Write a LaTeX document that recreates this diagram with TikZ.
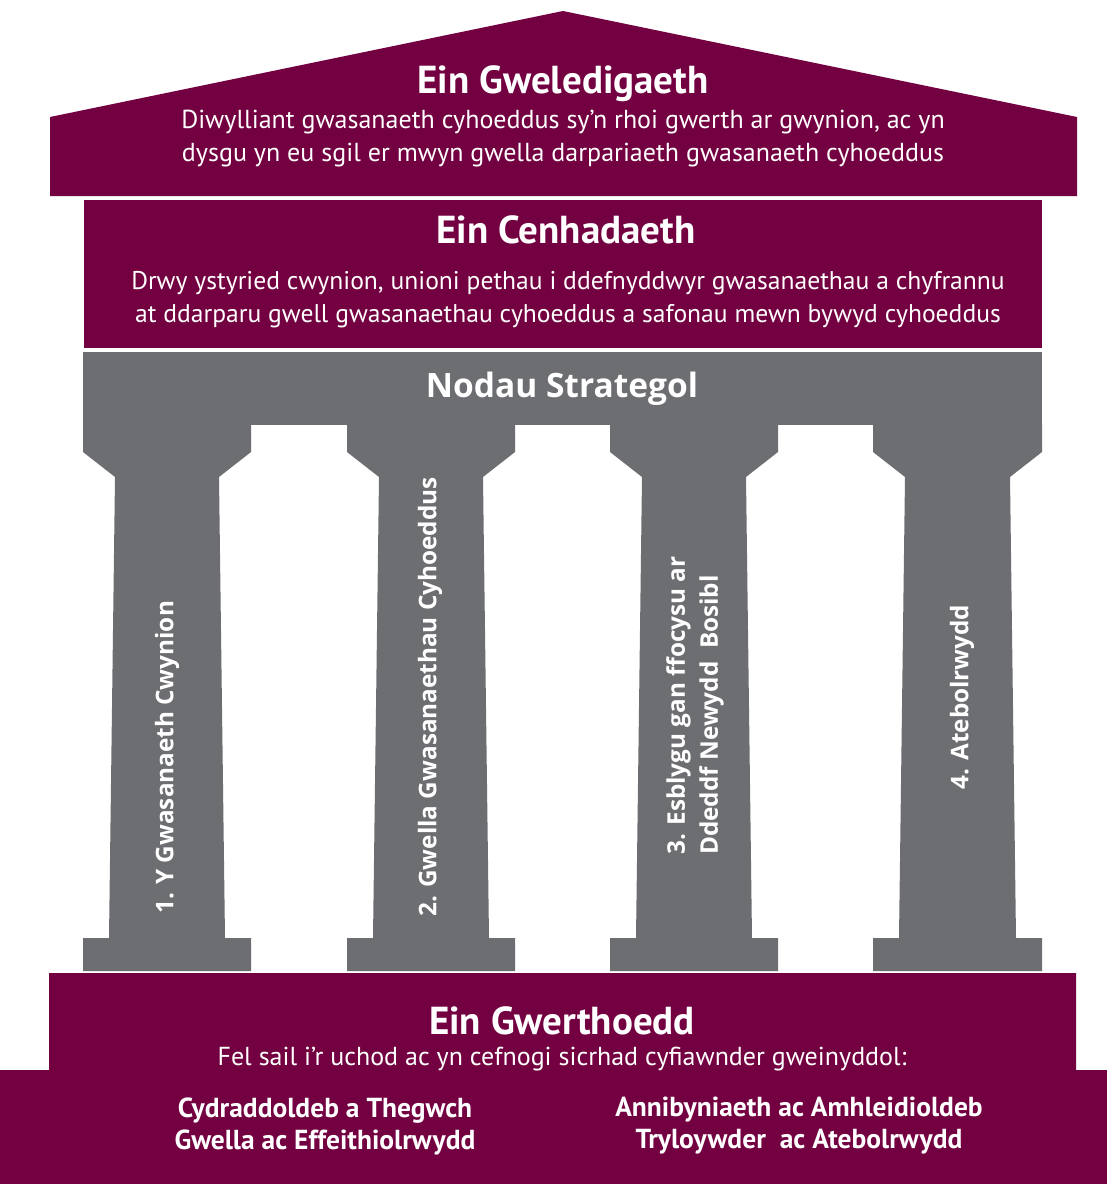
\documentclass[tikz,border=0pt]{standalone}
\usepackage{fontspec}
\setmainfont{PT Sans}
\newfontfamily\pillarfont{Open Sans}
\definecolor{maroon}{HTML}{730040}
\definecolor{pgray}{HTML}{6D6E71}
\begin{document}
\begin{tikzpicture}[x=1pt,y=-1pt,
  title/.style={text=white,font=\fontsize{39}{44}\selectfont\bfseries,inner sep=0pt},
  body/.style={text=white,font=\fontsize{26}{33}\selectfont,inner sep=0pt,align=center},
  value/.style={text=white,font=\fontsize{27.5}{32}\selectfont\bfseries,inner sep=0pt,align=center},
  ptitle/.style={text=white,font=\pillarfont\fontsize{33.5}{38}\selectfont\bfseries,inner sep=0pt},
  plabel/.style={text=white,font=\pillarfont\fontsize{24.3}{33}\selectfont\bfseries,inner sep=0pt,rotate=90,anchor=west,align=left}]
\useasboundingbox (0,0) rectangle (1107,1184);
\fill[white] (0,0) rectangle (1107,1184);
% roof
\fill[maroon] (50,196) -- (50,117) -- (563,11) -- (1077,117) -- (1077,196) -- cycle;
% mission
\fill[maroon] (84,200) rectangle (1042,348);
% entablature and columns
\fill[pgray] (83,352) rectangle (1042,425);
\foreach \L/\W in {83/168, 347/168, 610/168, 873/169}{
  \fill[pgray] (\L,424) -- (\L,452) -- ({\L+32},477) -- ({\L+26},938) -- (\L,938) -- (\L,971)
    -- ({\L+\W},971) -- ({\L+\W},938) -- ({\L+\W-26},938) -- ({\L+\W-32},477) -- ({\L+\W},452) -- ({\L+\W},424) -- cycle;
}
% foundation
\fill[maroon] (49,973) -- (1076,973) -- (1076,1070) -- (1107,1070) -- (1107,1184) -- (0,1184) -- (0,1070) -- (49,1070) -- cycle;

% texts
\node[title] (vt) at (563,84) {Ein Gweledigaeth};
\node[body] (vb) at (563,139) {Diwylliant gwasanaeth cyhoeddus sy’n rhoi gwerth ar gwynion, ac yn\\dysgu yn eu sgil er mwyn gwella darpariaeth gwasanaeth cyhoeddus};
\node[title] (mt) at (566,230) {Ein Cenhadaeth};
\node[body,font=\fontsize{25.6}{33}\selectfont] (mb) at (568,300) {Drwy ystyried cwynion, unioni pethau i ddefnyddwyr gwasanaethau a chyfrannu\\at ddarparu gwell gwasanaethau cyhoeddus a safonau mewn bywyd cyhoeddus};
\node[ptitle] (st) at (562,389) {Nodau Strategol};
\node[plabel] (p1) at (167,914) {1. Y Gwasanaeth Cwynion};
\node[plabel] (p2) at (430,917) {2. Gwella Gwasanaethau Cyhoeddus};
\node[plabel] (p3) at (695,855) {3. Esblygu gan ffocysu ar\\Ddeddf Newydd~ Bosibl};
\node[plabel] (p4) at (962,790) {4. Atebolrwydd};
\node[title] (gt) at (562,1021) {Ein Gwerthoedd};
\node[body] (gb) at (562,1059) {Fel sail i’r uchod ac yn cefnogi sicrhad cyfiawnder gweinyddol:};
\node[value] (g1) at (325,1126) {Cydraddoldeb a Thegwch\\Gwella ac Effeithiolrwydd};
\node[value] (g2) at (799,1126) {Annibyniaeth ac Amhleidioldeb\\Tryloywder~ ac Atebolrwydd};
\end{tikzpicture}
\end{document}
